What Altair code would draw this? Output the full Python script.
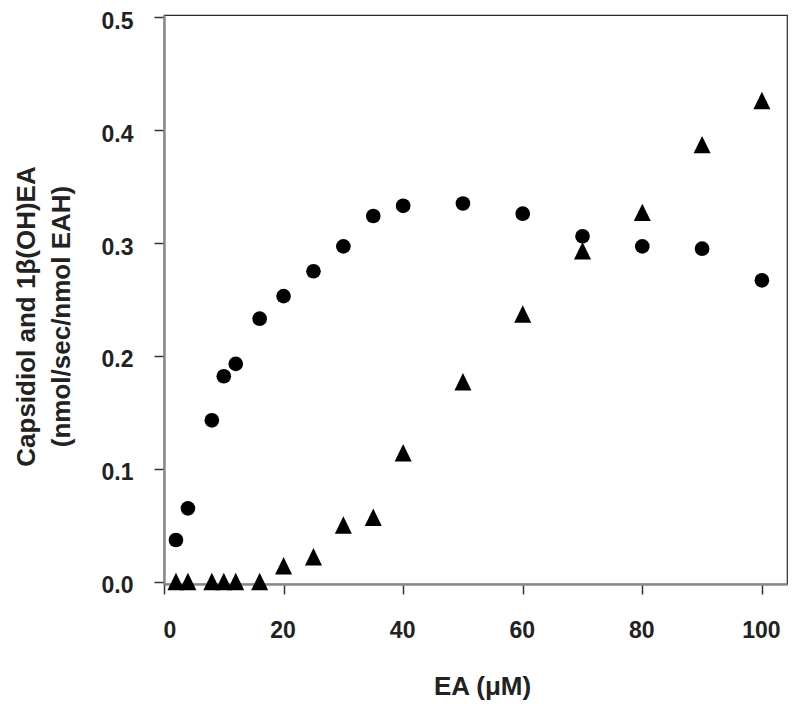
import altair as alt
import pandas as pd

# EA concentration (µM)
ea_conc = [2, 4, 8, 10, 12, 16, 20, 25, 30, 35, 40, 50, 60, 70, 80, 90, 100]
# circles: capsidiol series
circle_vals = [0.037, 0.065, 0.143, 0.182, 0.193, 0.233, 0.253, 0.275, 0.297,
               0.324, 0.333, 0.335, 0.326, 0.306, 0.297, 0.295, 0.267]
# triangles
triangle_vals = [0.0, 0.0, 0.0, 0.0, 0.0, 0.0, 0.014, 0.022, 0.050,
                 0.057, 0.114, 0.177, 0.237, 0.293, 0.327, 0.387, 0.426]

x_ticks = [0, 20, 40, 60, 80, 100]
y_ticks = [0.0, 0.1, 0.2, 0.3, 0.4, 0.5]

df_c = pd.DataFrame({"ea": ea_conc, "v": circle_vals})
df_t = pd.DataFrame({"ea": ea_conc, "v": triangle_vals})

FONT = "Liberation Sans"

x_enc = alt.X(
    "ea:Q",
    scale=alt.Scale(domain=[0, 104.2], nice=False, zero=False),
    axis=alt.Axis(
        values=x_ticks, format="d", grid=False,
        labelFont=FONT, labelFontSize=23, labelFontWeight="bold", labelColor="#222222",
        labelPadding=25, labelOffset=-1,
        tickSize=10, tickColor="#333333", tickWidth=1.5,
        domainColor="#888888", domainWidth=2.5,
        title="EA (μM)", titleFont=FONT, titleFontSize=26, titleFontWeight="bold",
        titleColor="#222222", titleX=318, titleY=110, titleAlign="center",
        titleBaseline="alphabetic",
    ),
)
y_enc = alt.Y(
    "v:Q",
    scale=alt.Scale(domain=[-0.002, 0.502], nice=False, zero=False),
    axis=alt.Axis(
        values=y_ticks, format=".1f", grid=False,
        labelFont=FONT, labelFontSize=23, labelFontWeight="bold", labelColor="#222222",
        labelPadding=21, labelOffset=4,
        tickSize=10, tickColor="#333333", tickWidth=1.5,
        domainColor="#888888", domainWidth=2.5,
        title=["Capsidiol and 1β(OH)EA", "(nmol/sec/nmol EAH)"],
        titleFont=FONT, titleFontSize=26, titleFontWeight="bold", titleColor="#222222",
        titleAngle=270, titleX=-130, titleY=301, titleAlign="center",
        titleBaseline="alphabetic", titleLineHeight=35,
    ),
)

tri = alt.Chart(df_t).mark_point(
    shape="M0,-1.05L1,1L-1,1Z", filled=True, color="black", opacity=1, size=290, strokeWidth=0
).encode(x=x_enc, y=y_enc)

circ = alt.Chart(df_c).mark_point(
    shape="circle", filled=True, color="black", opacity=1, size=215, strokeWidth=0
).encode(x=x_enc, y=y_enc)

chart = alt.layer(tri, circ).properties(
    width=623, height=569,
    autosize=alt.AutoSizeParams(type="none"),
    padding={"left": 156, "top": 7, "right": 5, "bottom": 118},
).configure_view(stroke="#2a2a2a", strokeWidth=1.2)

chart.save("out.html", embed_options={"renderer": "svg", "actions": False})
